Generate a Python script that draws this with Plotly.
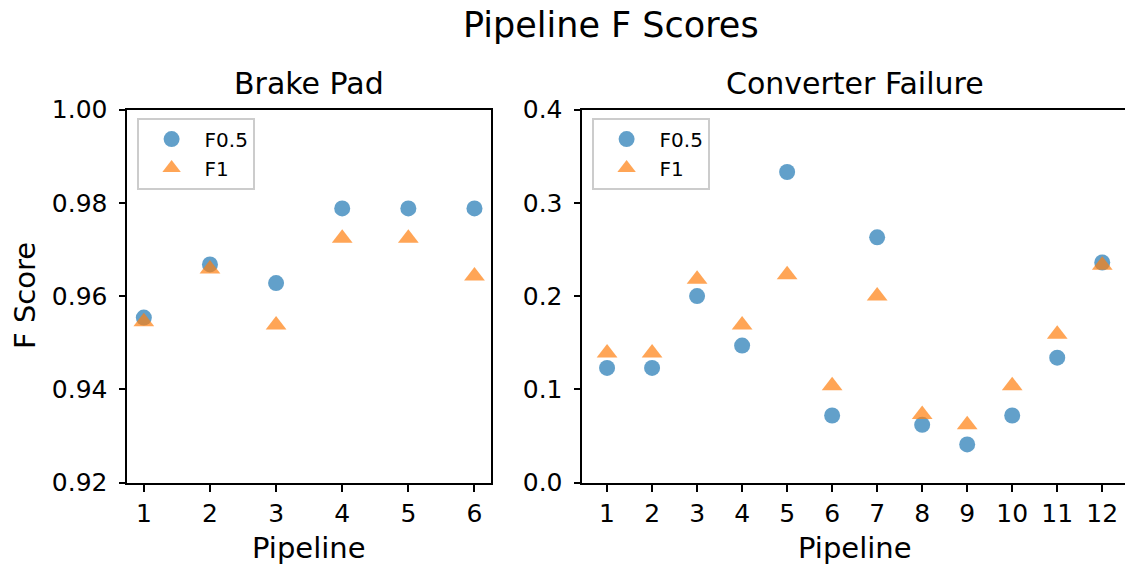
import plotly.graph_objects as go

W, H = 1125, 567

# ---- data ----
brake_pipelines = [1, 2, 3, 4, 5, 6]
brake_f05 = [0.9554, 0.9668, 0.9628, 0.9788, 0.9788, 0.9788]
brake_f1 = [0.9545, 0.9658, 0.9538, 0.9724, 0.9724, 0.9643]

conv_pipelines = [1, 2, 3, 4, 5, 6, 7, 8, 9, 10, 11, 12]
conv_f05 = [0.123, 0.123, 0.200, 0.147, 0.333, 0.072, 0.263, 0.062, 0.041, 0.072, 0.134, 0.236]
conv_f1 = [0.139, 0.139, 0.218, 0.169, 0.223, 0.104, 0.200, 0.073, 0.062, 0.104, 0.159, 0.233]

brake_yticks = [0.92, 0.94, 0.96, 0.98, 1.00]
conv_yticks = [0.0, 0.1, 0.2, 0.3, 0.4]

BLUE = "rgba(31,119,180,0.7)"
ORANGE = "rgba(255,127,14,0.7)"
FONT = "DejaVu Sans"

# screen pixel geometry -> paper (page body margin removed via post_script)
def px(x):
    return x / W

def py(y):
    return 1 - y / H

L1, R1 = 127.3, 491.0
L2, R2 = 582.3, 1127.0
TOP, BOT = 109.5, 482.7

fig = go.Figure()

fig.add_trace(go.Scatter(x=brake_pipelines, y=brake_f05, mode="markers", name="F0.5",
                         marker=dict(symbol="circle", size=16, color=BLUE, line=dict(width=0)),
                         xaxis="x", yaxis="y", legend="legend"))
fig.add_trace(go.Scatter(x=brake_pipelines, y=brake_f1, mode="markers", name="F1",
                         marker=dict(symbol="triangle-up", size=18, color=ORANGE, line=dict(width=0)),
                         xaxis="x", yaxis="y", legend="legend"))
fig.add_trace(go.Scatter(x=conv_pipelines, y=conv_f05, mode="markers", name="F0.5",
                         marker=dict(symbol="circle", size=16, color=BLUE, line=dict(width=0)),
                         xaxis="x2", yaxis="y2", legend="legend2"))
fig.add_trace(go.Scatter(x=conv_pipelines, y=conv_f1, mode="markers", name="F1",
                         marker=dict(symbol="triangle-up", size=18, color=ORANGE, line=dict(width=0)),
                         xaxis="x2", yaxis="y2", legend="legend2"))

axis_common = dict(showgrid=False, zeroline=False, showline=True, linecolor="black", linewidth=1.6,
                   ticks="outside", ticklen=7, tickwidth=1.6, tickcolor="black", automargin=False,
                   mirror=True, tickfont=dict(family=FONT, size=25, color="black"))

legend_common = dict(xanchor="left", yanchor="top", itemwidth=56,
                     bgcolor="white", bordercolor="#cccccc", borderwidth=1.6,
                     font=dict(family=FONT, size=20, color="black"))

fig.update_layout(
    width=W, height=H,
    margin=dict(l=0, r=0, t=0, b=0, pad=0, autoexpand=False),
    paper_bgcolor="white", plot_bgcolor="white",
    font=dict(family=FONT, color="black"),
    xaxis=dict(domain=[px(L1), px(R1)], range=[0.75, 6.25], tickvals=brake_pipelines,
               anchor="y", **axis_common),
    yaxis=dict(domain=[py(BOT), py(TOP)], range=[0.92, 1.00], tickvals=brake_yticks,
               tickformat=".2f", anchor="x", ticklabelstandoff=6, **axis_common),
    xaxis2=dict(domain=[px(L2), 1.0], range=[0.45, 0.45 + (W - L2) / (R2 - L2) * 12.1],
                tickvals=conv_pipelines, anchor="y2", **axis_common),
    yaxis2=dict(domain=[py(BOT), py(TOP)], range=[0.0, 0.4], tickvals=conv_yticks,
                tickformat=".1f", anchor="x2", ticklabelstandoff=6, **{**axis_common, "mirror": False}),
    legend=dict(x=px(137), y=py(118), **legend_common),
    legend2=dict(x=px(592), y=py(118), **legend_common),
    showlegend=True,
)

ann = [
    dict(text="Pipeline F Scores", x=px(611), y=py(25), size=35),
    dict(text="Brake Pad", x=px((L1 + R1) / 2), y=py(83), size=30),
    dict(text="Converter Failure", x=px(854.5), y=py(83), size=30),
    dict(text="Pipeline", x=px((L1 + R1) / 2), y=py(548), size=29),
    dict(text="Pipeline", x=px(855), y=py(548), size=29),
]
for a in ann:
    fig.add_annotation(text=a["text"], x=a["x"], y=a["y"], xref="paper", yref="paper",
                       xanchor="center", yanchor="middle", showarrow=False,
                       font=dict(family=FONT, size=a["size"], color="black"))
fig.add_annotation(text="F Score", x=px(25), y=py(296), xref="paper", yref="paper",
                   xanchor="center", yanchor="middle", showarrow=False, textangle=-90,
                   font=dict(family=FONT, size=29, color="black"))

fig.write_html(
    "out.html",
    config={"displayModeBar": False},
    post_script="document.body.style.margin='0';document.body.style.overflow='hidden';",
)
